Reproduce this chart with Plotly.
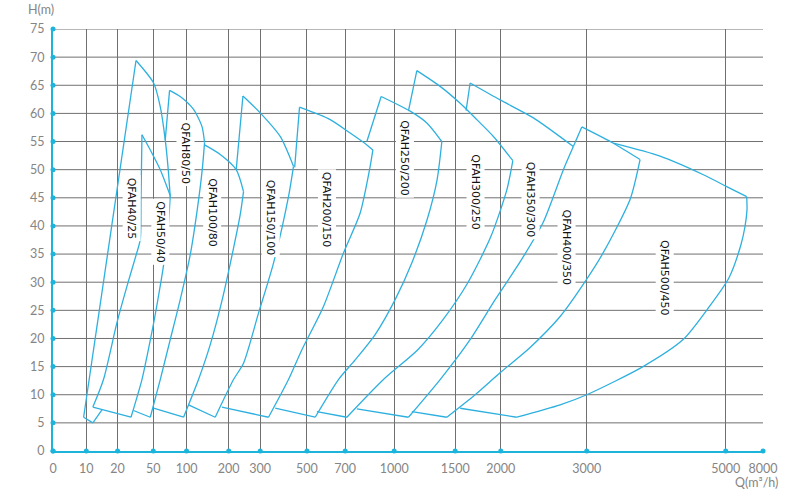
import numpy as np
import plotly.graph_objects as go

# ---------------- data ----------------
Q_TICKS = [0, 10, 20, 50, 100, 200, 300, 500, 700, 1000, 1500, 2000, 3000, 5000, 8000]
Q_TICK_TEXT = [str(v) for v in Q_TICKS]
H_TICKS = list(range(0, 80, 5))

# Custom (non-uniform) printed scale of the flow axis: axis units at each flow tick
AXIS_SCALE = [0, 33.3, 64.6, 100.3, 133.6, 175.8, 207.3, 254.1, 292.3, 341.3, 402.3, 448, 534, 673, 710.3]

PUMPS = ["QFAH40/25", "QFAH50/40", "QFAH80/50", "QFAH100/80", "QFAH150/100", "QFAH200/150",
         "QFAH250/200", "QFAH300/250", "QFAH350/300", "QFAH400/350", "QFAH500/450"]

Q_40_25 = [15.0, 12.1, 9.2, 35.5, 50.5, 60.5, 68.0, 72.5, 75.5]
H_40_25 = [7.3, 5.0, 6.0, 69.4, 65.4, 61.2, 55.3, 50.0, 45.2]
K_40_25 = [1, 2, 3]

Q_50_40 = [12.1, 15.5, 19.8, 29.0, 35.7, 39.1, 39.7, 40.5, 47.5, 60.5, 75.5, 71.0, 62.0, 51.5, 45.0, 40.5, 31.3, 12.1]
H_50_40 = [7.8, 12.7, 22.8, 30.1, 34.9, 37.6, 44.7, 56.2, 53.5, 50.0, 45.4, 37.6, 30.4, 23.3, 17.1, 12.7, 6.0, 7.8]
K_50_40 = [7, 10, 16]

Q_80_50 = [68.0, 74.5, 90.5, 116.6, 136.5, 142.7, 137.2, 125.4, 108.8, 90.5, 75.5, 60.5, 47.5, 33.4]
H_80_50 = [55.3, 64.1, 63.0, 60.7, 57.7, 54.8, 50.0, 42.9, 34.9, 26.9, 19.8, 12.7, 6.0, 7.2]
K_80_50 = [1, 5, 12]

Q_100_80 = [142.7, 179.9, 223.8, 247.0, 236.5, 214.3, 184.6, 156.2, 128.4, 95.5, 50.5]
H_100_80 = [54.4, 52.7, 50.0, 46.1, 42.0, 35.8, 26.9, 18.9, 12.7, 6.0, 7.6]
K_100_80 = [3, 9]

Q_150_100 = [223.8, 245.1, 300, 385.5, 442.3, 420.9, 356.8, 294.6, 247.0, 215.2, 168.0, 104.7]
H_150_100 = [50.0, 63.1, 60.1, 55.9, 50.6, 45.2, 33.4, 24.5, 15.6, 12.7, 6.0, 8.2]
K_150_100 = [1, 4, 10]

Q_200_150 = [447.4, 468.0, 621.5, 730.6, 832.9, 869.6, 853.1, 791.8, 691.1, 586.4, 478.2, 420.9, 335.5, 183.9]
H_200_150 = [50.4, 61.1, 58.9, 56.5, 54.4, 53.5, 50.6, 42.3, 35.2, 25.7, 18.0, 12.7, 6.0, 7.8]
K_200_150 = [1, 5, 12]

Q_250_200 = [832.9, 920.4, 1131, 1268, 1391, 1352, 1270, 1148, 1008, 883.7, 761.2, 664.9, 542.9, 364.1]
H_250_200 = [55.0, 63.0, 60.4, 58.3, 55.0, 48.2, 41.1, 33.6, 26.9, 20.7, 16.2, 12.7, 6.0, 7.6]
K_250_200 = [1, 4, 12]

Q_300_250 = [1117, 1186, 1377, 1555, 1737, 1919, 2140, 2070, 1891, 1639, 1399, 1194, 934.5, 710.4, 551.8]
H_300_250 = [60.4, 67.6, 64.8, 61.8, 58.9, 55.9, 51.6, 46.4, 38.1, 29.9, 23.3, 18.0, 12.7, 6.0, 7.0]
K_300_250 = [1, 6, 13]

Q_350_300 = [1620, 1664, 1992, 2379, 2844, 2728, 2492, 2224, 1938, 1664, 1377, 1117, 771.6]
H_350_300 = [60.5, 65.4, 62.4, 59.2, 54.1, 50.0, 40.6, 33.6, 26.9, 19.8, 12.7, 6.0, 7.5]
K_350_300 = [1, 4, 11]

Q_400_350 = [2844, 2942, 3383, 3767, 3623, 3235, 2980, 2690, 2341, 1992, 1719, 1432, 1145]
H_400_350 = [54.1, 57.6, 54.7, 51.8, 44.7, 35.2, 30.1, 23.9, 18.4, 13.9, 10.0, 6.0, 7.0]
K_400_350 = [1, 3, 11]

Q_500_450 = [3383, 4055, 4678, 5080, 6689, 6713, 6552, 6231, 5265, 4760, 4386, 3810, 3000, 2690, 2186, 1555]
H_500_450 = [54.7, 52.4, 49.1, 47.0, 45.2, 42.9, 39.9, 36.7, 30.8, 25.6, 19.8, 15.0, 10.0, 8.2, 6.0, 7.6]
K_500_450 = [4, 14]

# label anchor (flow, head) for each pump name
LABEL_Q = [31.5, 60.5, 98.0, 161, 343, 604, 1090, 1727, 2341, 2767, 4127]
LABEL_H = [43.2, 39.0, 53.0, 42.4, 41.6, 42.9, 52.2, 46.0, 44.8, 36.2, 30.9]

CURVES_Q = [Q_40_25, Q_50_40, Q_80_50, Q_100_80, Q_150_100, Q_200_150,
            Q_250_200, Q_300_250, Q_350_300, Q_400_350, Q_500_450]
CURVES_H = [H_40_25, H_50_40, H_80_50, H_100_80, H_150_100, H_200_150,
            H_250_200, H_300_250, H_350_300, H_400_350, H_500_450]
CORNERS = [K_40_25, K_50_40, K_80_50, K_100_80, K_150_100, K_200_150,
           K_250_200, K_300_250, K_350_300, K_400_350, K_500_450]

# ---------------- drawing ----------------
def to_axis(q):
    return np.interp(np.asarray(q, dtype=float), Q_TICKS, AXIS_SCALE)

CURVE_COLOR = "#2eb0df"
AXIS_COLOR = "#1db4dc"
GRID_COLOR = "#707070"
TICK_FONT = dict(family="Lato", size=12.5, color="#858585")

fig = go.Figure()

# horizontal grid lines (one per head tick)
for h in H_TICKS[1:]:
    fig.add_shape(type="line", xref="x", yref="y", x0=0, x1=AXIS_SCALE[-1], y0=h, y1=h,
                  line=dict(color=GRID_COLOR, width=1), layer="below")

for name, qs, hs, ks in zip(PUMPS, CURVES_Q, CURVES_H, CORNERS):
    xs = to_axis(qs)
    cuts = [0] + list(ks) + [len(qs) - 1]
    for a, b in zip(cuts[:-1], cuts[1:]):
        fig.add_trace(go.Scatter(x=xs[a:b + 1], y=hs[a:b + 1], mode="lines", name=name,
                                 line=dict(color=CURVE_COLOR, width=1.3, shape="spline",
                                           smoothing=0.7),
                                 hoverinfo="skip", showlegend=False))

# dots on the axes at each tick
fig.add_trace(go.Scatter(x=to_axis(Q_TICKS), y=[0] * len(Q_TICKS), mode="markers",
                         marker=dict(color=AXIS_COLOR, size=5), cliponaxis=False,
                         showlegend=False, hoverinfo="skip"))
fig.add_trace(go.Scatter(x=[0] * len(H_TICKS), y=H_TICKS, mode="markers",
                         marker=dict(color=AXIS_COLOR, size=5), cliponaxis=False,
                         showlegend=False, hoverinfo="skip"))

for name, lq, lh in zip(PUMPS, LABEL_Q, LABEL_H):
    fig.add_annotation(x=float(to_axis(lq)), y=lh, text=name, textangle=90,
                       showarrow=False, bgcolor="white", borderpad=2,
                       font=dict(family="DejaVu Sans", size=11, color="#111111"))

fig.add_annotation(xref="paper", yref="paper", x=-0.0165, y=1.0457, text="H(m)",
                   showarrow=False, xanchor="center", yanchor="middle",
                   font=dict(family="Lato", size=12.5, color="#858585"))
fig.add_annotation(xref="paper", yref="paper", x=1.0239, y=-0.0751, text="Q(m³/h)",
                   showarrow=False, xanchor="right", yanchor="middle",
                   font=dict(family="Lato", size=12.5, color="#858585"))

fig.update_layout(
    width=804, height=494,
    margin=dict(l=52.7, r=41, t=29.3, b=42.7),
    paper_bgcolor="white", plot_bgcolor="white",
    xaxis=dict(range=[0, AXIS_SCALE[-1]], tickmode="array", tickvals=AXIS_SCALE,
               ticktext=Q_TICK_TEXT, showgrid=True, gridcolor=GRID_COLOR, gridwidth=1,
               showline=True, linecolor=AXIS_COLOR, linewidth=2, zeroline=False,
               ticks="", ticklabelstandoff=5, tickfont=TICK_FONT, fixedrange=True),
    yaxis=dict(range=[0, 75], tickmode="array", tickvals=H_TICKS,
               showgrid=False, showline=True, linecolor=AXIS_COLOR, linewidth=2,
               zeroline=False, ticks="", ticklabelstandoff=4, tickfont=TICK_FONT,
               fixedrange=True),
)

fig.write_html("out.html", config={"displayModeBar": False},
               post_script="document.body.style.margin='0';")
